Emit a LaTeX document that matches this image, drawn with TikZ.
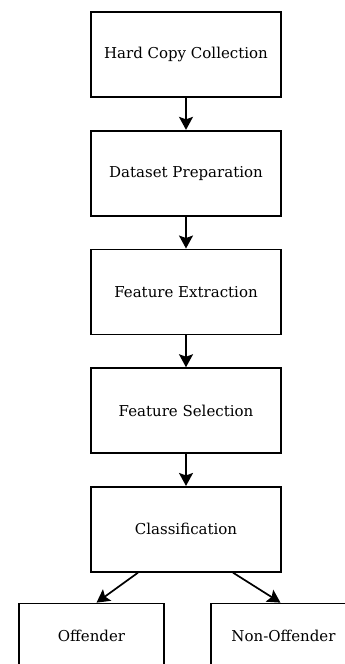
\documentclass[tikz,border=0pt]{standalone}
\usepackage{fontspec}
\setmainfont{DejaVu Serif}
\usepackage{tikz}
\usetikzlibrary{positioning}
\usetikzlibrary{shapes,arrows,calc,arrows.meta}

\begin{document}
\begin{tikzpicture}[node distance=32pt, auto,
    stage/.style={draw, rectangle, line width=1.7pt, minimum width=190pt, minimum height=85pt, font=\fontsize{15}{17}\selectfont},
    leaf/.style={stage, minimum width=145pt, minimum height=64pt},
    flow/.style={-{Stealth[length=13pt,width=14pt,inset=2.5pt]}, line width=1.7pt}]
    \useasboundingbox (0,0) rectangle (345pt,-664pt);
    \clip (0,0) rectangle (345pt,-664pt);
    % Nodes
    \node [stage] (collect) at (186pt,-54.5pt) {Hard Copy Collection};
    \node [stage, below=of collect] (prepare) {Dataset Preparation};
    \node [stage, below=of prepare] (extract) {Feature Extraction};
    \node [stage, below=of extract] (select) {Feature Selection};
    \node [stage, below=of select] (classify) {Classification};
    \node [leaf, below=30pt of classify, xshift=-94.5pt] (offender) {Offender};
    \node [leaf, below=30pt of classify, xshift=97.5pt] (nonoffender) {Non-Offender};
    % Arrows
    \draw [flow] (collect) -- (prepare);
    \draw [flow] (prepare) -- (extract);
    \draw [flow] (extract) -- (select);
    \draw [flow] (select) -- (classify);
    \draw [flow] ([xshift=-48pt]classify.south) -- ([xshift=5pt]offender.north);
    \draw [flow] ([xshift=47pt]classify.south) -- ([xshift=-3pt]nonoffender.north);
  \end{tikzpicture}
\end{document}
